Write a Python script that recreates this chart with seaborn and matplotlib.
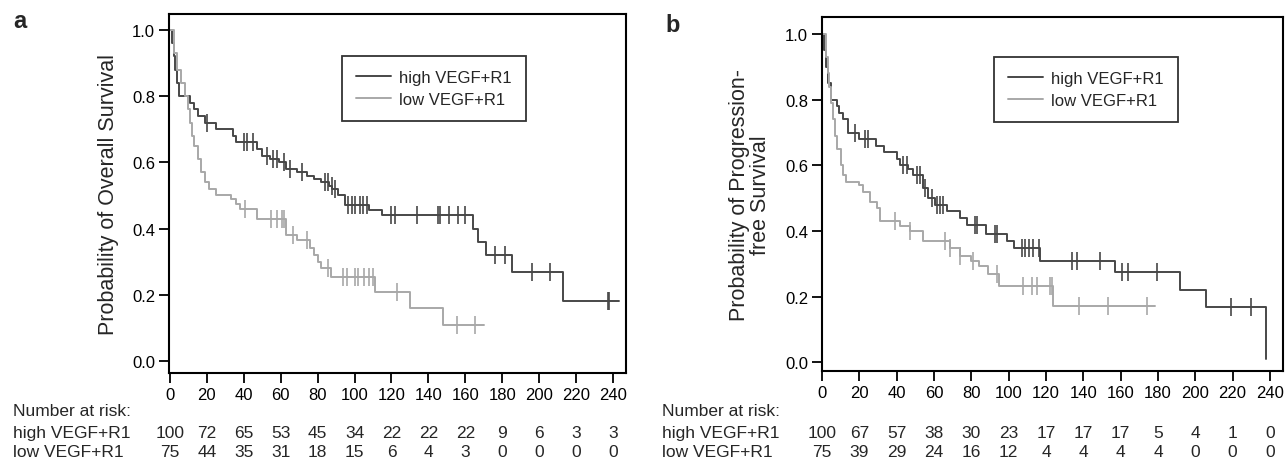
import numpy as np
import pandas as pd
import seaborn as sns
import matplotlib
matplotlib.use("Agg")
import matplotlib.pyplot as plt

# ---- data ----
# panel a: overall survival (step start times / survival levels)
a_high_t = [0, 1, 2, 3, 4, 5, 11, 13, 15, 19, 25, 34, 36, 47, 50, 54, 59, 63, 69, 74, 78, 82, 86, 88, 91, 95, 108, 115, 164, 167, 171, 185, 213]
a_high_s = [1.0, 0.96, 0.92, 0.88, 0.84, 0.80, 0.78, 0.76, 0.74, 0.72, 0.70, 0.68, 0.66, 0.64, 0.62, 0.61, 0.60, 0.58, 0.57, 0.56, 0.55, 0.54, 0.53, 0.52, 0.50, 0.47, 0.455, 0.44, 0.40, 0.36, 0.32, 0.27, 0.18]
a_high_end = 243
a_high_cens = [20, 40, 42, 45, 52.5, 56, 58, 62, 65, 71.5, 84, 85.5, 87.6, 89.4, 96.5, 98.6, 100, 103, 104.5, 106.7,
               120, 122, 134, 145, 146, 151, 156, 160, 176, 181.5, 196, 206, 237, 238]

a_low_t = [0, 2, 4, 6, 8, 10, 11, 12, 13, 15, 17, 19, 21, 25, 33, 36, 38, 47, 63, 69, 76, 78, 80, 82, 87, 111, 130, 148]
a_low_s = [1.0, 0.93, 0.88, 0.84, 0.80, 0.76, 0.72, 0.68, 0.65, 0.61, 0.57, 0.54, 0.52, 0.50, 0.49, 0.475, 0.46, 0.43, 0.38, 0.365, 0.34, 0.32, 0.30, 0.28, 0.255, 0.21, 0.16, 0.11]
a_low_end = 170
a_low_cens = [40.6, 55, 58, 60.5, 62, 66.7, 74.3, 85.4, 93.5, 96, 100.5, 102, 105, 108, 110, 123, 155.5, 165]

# panel b: progression-free survival
b_high_t = [0, 1, 2, 3, 5, 8, 9, 11, 14, 20, 29, 33, 40, 42, 46, 49, 54, 57, 60.5, 67, 74, 77.5, 88, 99, 103, 117, 157, 192, 206, 238]
b_high_s = [1.0, 0.95, 0.90, 0.85, 0.80, 0.78, 0.76, 0.74, 0.70, 0.68, 0.66, 0.64, 0.62, 0.60, 0.59, 0.57, 0.53, 0.50, 0.48, 0.46, 0.44, 0.42, 0.39, 0.37, 0.35, 0.31, 0.275, 0.22, 0.17, 0.01]
b_high_end = 238
b_high_cens = [17.7, 23, 24.6, 43.5, 45.5, 51, 52.5, 55, 59, 61.5, 63, 65, 82, 83, 92.5, 94, 107, 109, 111, 113, 116,
               134, 136.5, 149, 160.5, 164, 179.5, 219, 230]

b_low_t = [0, 2, 3, 4, 5, 6, 7, 8, 10, 11.5, 13, 20, 22, 25.7, 29.5, 31, 41.8, 47, 54, 68.6, 74, 80, 84, 89, 95, 124]
b_low_s = [1.0, 0.93, 0.88, 0.84, 0.79, 0.74, 0.69, 0.65, 0.60, 0.57, 0.55, 0.54, 0.52, 0.49, 0.47, 0.43, 0.415, 0.40, 0.37, 0.35, 0.325, 0.31, 0.295, 0.27, 0.234, 0.173]
b_low_end = 178.5
b_low_cens = [39, 47, 66, 68.6, 74, 81, 93.6, 107.7, 112.5, 115, 122, 123, 137.7, 153, 174]

# number at risk tables
risk_times = [0, 20, 40, 60, 80, 100, 120, 140, 160, 180, 200, 220, 240]
a_risk_high = [100, 72, 65, 53, 45, 34, 22, 22, 22, 9, 6, 3, 3]
a_risk_low = [75, 44, 35, 31, 18, 15, 6, 4, 3, 0, 0, 0, 0]
b_risk_high = [100, 67, 57, 38, 30, 23, 17, 17, 17, 5, 4, 1, 0]
b_risk_low = [75, 39, 29, 24, 16, 12, 4, 4, 4, 4, 0, 0, 0]

groups = ["high VEGF+R1", "low VEGF+R1"]
colors = ["#474747", "#a8a8a8"]

sns.set_style("ticks")
plt.rcParams["font.family"] = ["Liberation Sans", "DejaVu Sans"]

fig = plt.figure(figsize=(12.86, 4.6), dpi=100)
W, H = 1286, 460


def px_axes(l, t, r, b):
    return fig.add_axes([l / W, 1 - b / H, (r - l) / W, (b - t) / H])


def km(ax, t, s, end, cens, color, label):
    tt = list(t) + [end]
    ss = list(s) + [s[-1]]
    df = pd.DataFrame({"time": tt, "surv": ss})
    sns.lineplot(data=df, x="time", y="surv", drawstyle="steps-post", color=color, lw=1.4,
                 estimator=None, sort=False, ax=ax, label=label)
    idx = np.searchsorted(t, cens, side="right") - 1
    cy = np.array(s)[idx]
    sns.scatterplot(x=cens, y=cy, marker="|", s=170, linewidth=1.2, color=color, ax=ax, zorder=3)


def style(ax, ylim, anchor):
    ax.set_xlim(-0.5, 247)
    ax.set_ylim(*ylim)
    ax.set_xticks(risk_times)
    ax.set_yticks([0, 0.2, 0.4, 0.6, 0.8, 1.0])
    ax.set_yticklabels(["0.0", "0.2", "0.4", "0.6", "0.8", "1.0"])
    ax.tick_params(direction="out", length=7, width=1.3, labelsize=12, colors="black", pad=3)
    for sp in ax.spines.values():
        sp.set_visible(True)
        sp.set_linewidth(1.5)
        sp.set_color("black")
    ax.set_xlabel("")
    leg = ax.legend(loc="upper left", bbox_to_anchor=anchor, borderaxespad=0, frameon=True,
                    fontsize=12, handlelength=2.1, handletextpad=0.5, borderpad=0.85,
                    labelspacing=0.4, fancybox=False)
    leg.get_frame().set_edgecolor("black")
    leg.get_frame().set_linewidth(1.3)
    return leg


# panel a
ax1 = px_axes(169, 15, 626, 374)
km(ax1, a_high_t, a_high_s, a_high_end, a_high_cens, colors[0], groups[0])
km(ax1, a_low_t, a_low_s, a_low_end, a_low_cens, colors[1], groups[1])
style(ax1, (-0.036, 1.048), (0.378, 0.883))
ax1.set_ylabel("Probability of Overall Survival", fontsize=15.5, labelpad=9)

# panel b
ax2 = px_axes(822, 18, 1283, 372)
km(ax2, b_high_t, b_high_s, b_high_end, b_high_cens, colors[0], groups[0])
km(ax2, b_low_t, b_low_s, b_low_end, b_low_cens, colors[1], groups[1])
style(ax2, (-0.026, 1.052), (0.373, 0.887))
ax2.set_xlim(0, 247)
ax2.set_ylabel("Probability of Progression-\nfree Survival", fontsize=15.5, labelpad=10, linespacing=1.0)

# panel letters
fig.text(13 / W, 1 - 28 / H, "a", fontsize=17, fontweight="bold", va="baseline")
fig.text(665 / W, 1 - 32 / H, "b", fontsize=17, fontweight="bold", va="baseline")

# number at risk tables
rows_y = [412, 434, 453]
for ax, x0, rh, rl in [(ax1, 13, a_risk_high, a_risk_low), (ax2, 662, b_risk_high, b_risk_low)]:
    fig.text(x0 / W, 1 - rows_y[0] / H, "Number at risk:", fontsize=12.5, va="center", ha="left")
    fig.text(x0 / W, 1 - rows_y[1] / H, groups[0], fontsize=12.5, va="center", ha="left")
    fig.text(x0 / W, 1 - rows_y[2] / H, groups[1], fontsize=12.5, va="center", ha="left")
    tr = matplotlib.transforms.blended_transform_factory(ax.transData, fig.transFigure)
    for xt, vh, vl in zip(risk_times, rh, rl):
        ax.text(xt, 1 - rows_y[1] / H, str(vh), transform=tr, fontsize=12.5, ha="center", va="center")
        ax.text(xt, 1 - rows_y[2] / H, str(vl), transform=tr, fontsize=12.5, ha="center", va="center")

fig.savefig("out.png", dpi=100)
